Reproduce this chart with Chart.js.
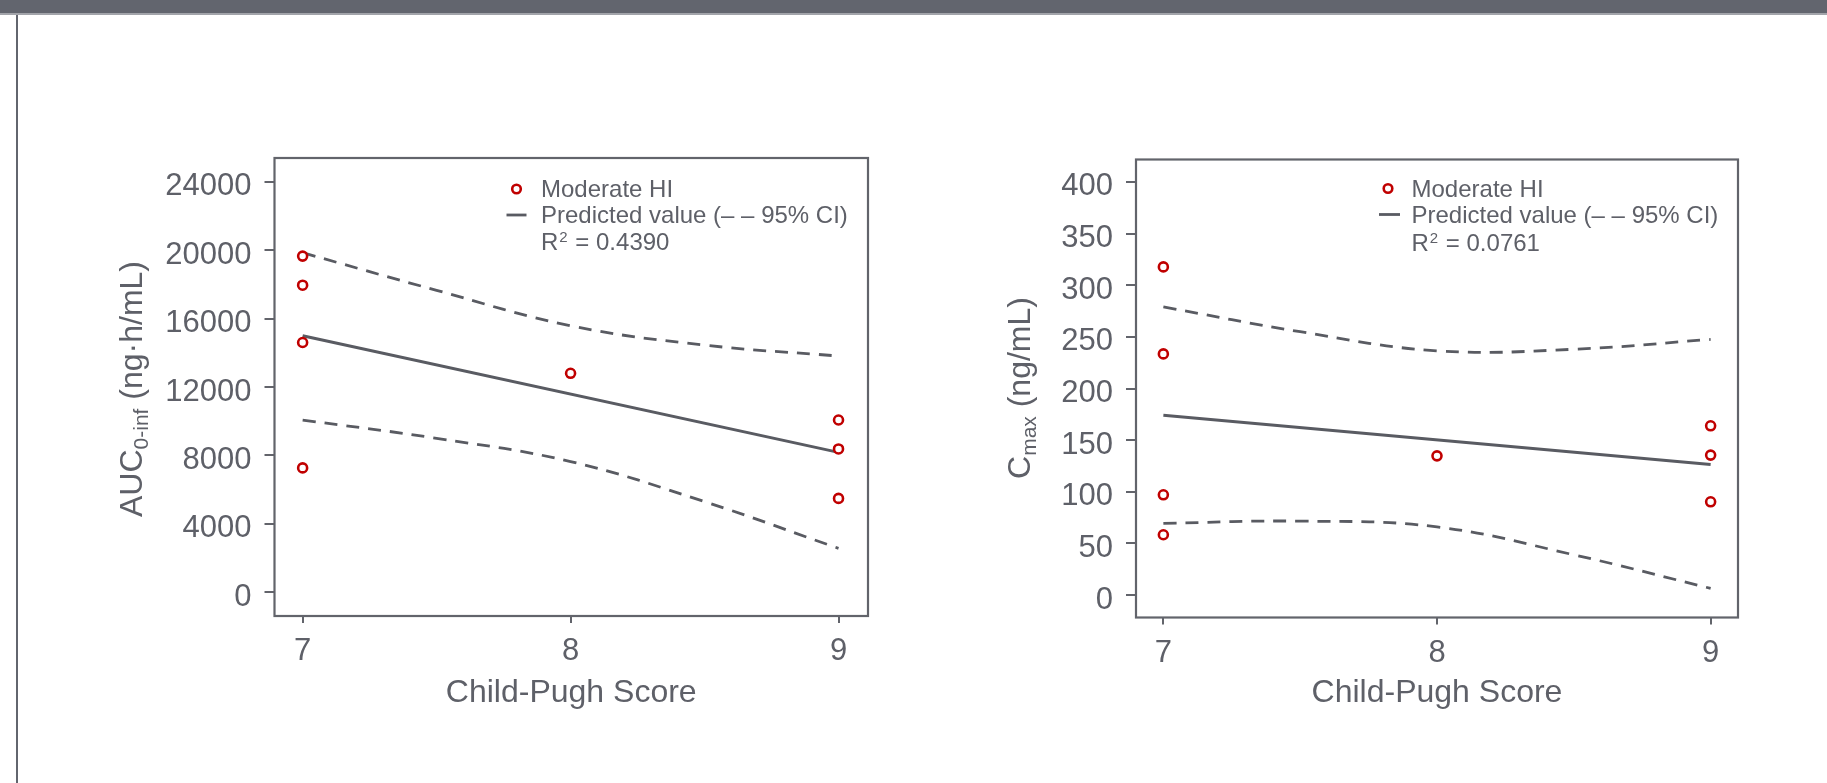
<!DOCTYPE html>
<html>
<head>
<meta charset="utf-8">
<script src="https://cdn.jsdelivr.net/npm/chart.js@4.4.1/dist/chart.umd.min.js"></script>
<style>
  html, body { margin: 0; padding: 0; background: #ffffff; width: 1827px; height: 783px; overflow: hidden; }
  body { position: relative; }
  #topbar { position: absolute; left: 0; top: 0; width: 1827px; height: 13px; background: #62656e; border-bottom: 2px solid #a2a4aa; }
  #siderule { position: absolute; left: 16px; top: 15px; width: 2px; height: 768px; background: #62656e; }
  .panel { position: absolute; top: 0; height: 783px; }
  canvas { display: block; }
</style>
</head>
<body>
<div id="topbar"></div>
<div id="siderule"></div>
<div class="panel" style="left:0; width:913px;"><canvas id="aucChart" width="913" height="783"></canvas></div>
<div class="panel" style="left:913px; width:914px;"><canvas id="cmaxChart" width="914" height="783"></canvas></div>
<script>
// Child-Pugh score of each subject with moderate hepatic impairment
const scores = [7, 7, 7, 7, 8, 9, 9, 9];
// AUC0-inf (ng·h/mL) per subject
const aucValues = [19650, 17950, 14600, 7270, 12800, 10070, 8380, 5490];
// Cmax (ng/mL) per subject
const cmaxValues = [317.7, 233.5, 97.1, 58.4, 134.8, 163.9, 135.5, 90.3];

// Regression line end points
const fitScores = [7, 9];
const aucFit = [15000, 8180];
const cmaxFit = [174, 126.5];

// 95% confidence band
const ciScores = [7, 7.5, 8, 8.5, 9];
const aucUpper = [19850, 17650, 15580, 14450, 13810];
const aucLower = [10070, 9000, 7640, 5300, 2570];
const cmaxUpper = [279, 255, 236.5, 238, 247.5];
const cmaxLower = [69.5, 71.6, 66, 39, 6.5];

// Axis ticks
const xTicks = [7, 8, 9];
const aucTicks = [0, 4000, 8000, 12000, 16000, 20000, 24000];
const cmaxTicks = [0, 50, 100, 150, 200, 250, 300, 350, 400];

const r2Auc = 'R\u00b2 = 0.4390';
const r2Cmax = 'R\u00b2 = 0.0761';

const FONT = "'Liberation Sans', Arial, Helvetica, sans-serif";
const TEXT = '#5e6068';
const AXIS = '#62646b';
const LINE = '#595b62';
const RED = '#c00000';

const pairs = (xs, ys) => xs.map((x, i) => ({ x: x, y: ys[i] }));

const decor = {
  id: 'panelDecor',
  afterDraw(chart, args, o) {
    const ctx = chart.ctx;
    const a = chart.chartArea;
    ctx.save();
    // plot frame
    ctx.strokeStyle = AXIS;
    ctx.lineWidth = 2.2;
    ctx.strokeRect(a.left, a.top, a.right - a.left, a.bottom - a.top);

    ctx.fillStyle = TEXT;
    ctx.textBaseline = 'alphabetic';

    // x axis title
    ctx.font = '32px ' + FONT;
    ctx.textAlign = 'center';
    ctx.fillText('Child-Pugh Score', (a.left + a.right) / 2, o.xTitleY);

    // y axis title with subscript, rotated
    ctx.save();
    ctx.translate(o.yTitleX, o.yTitleY);
    ctx.rotate(-Math.PI / 2);
    ctx.textAlign = 'left';
    const bigFont = '32px ' + FONT;
    const subFont = '21px ' + FONT;
    ctx.font = bigFont; const w1 = ctx.measureText(o.yMain).width;
    ctx.font = subFont; const w2 = ctx.measureText(o.ySub).width;
    ctx.font = bigFont; const w3 = ctx.measureText(o.yRest).width;
    let x0 = -(w1 + w2 + w3) / 2;
    ctx.font = bigFont; ctx.fillText(o.yMain, x0, 0);
    ctx.font = subFont; ctx.fillText(o.ySub, x0 + w1, 6);
    ctx.font = bigFont; ctx.fillText(o.yRest, x0 + w1 + w2, 0);
    ctx.restore();

    // legend
    const lg = o.legend;
    const lgFont = '24px ' + FONT;
    ctx.textAlign = 'left';
    ctx.font = lgFont;
    ctx.beginPath();
    ctx.arc(lg.markX, lg.row1 - 8, 4.3, 0, Math.PI * 2);
    ctx.fillStyle = '#ffffff';
    ctx.fill();
    ctx.strokeStyle = RED;
    ctx.lineWidth = 2.6;
    ctx.stroke();
    ctx.fillStyle = TEXT;
    ctx.fillText('Moderate HI', lg.textX, lg.row1);

    ctx.beginPath();
    ctx.moveTo(lg.lineX1, lg.row2 - 8);
    ctx.lineTo(lg.lineX2, lg.row2 - 8);
    ctx.strokeStyle = LINE;
    ctx.lineWidth = 2.8;
    ctx.stroke();
    ctx.fillText('Predicted value (\u2013 \u2013 95% CI)', lg.textX, lg.row2);

    // R² with a raised 2
    const parts = o.r2.split('\u00b2');
    ctx.font = lgFont;
    const rw = ctx.measureText(parts[0]).width;
    ctx.fillText(parts[0], lg.textX, lg.row3);
    ctx.font = '15px ' + FONT;
    const sw = ctx.measureText('2').width;
    ctx.fillText('2', lg.textX + rw + 1, lg.row3 - 8);
    ctx.font = lgFont;
    ctx.fillText(parts[1], lg.textX + rw + sw + 2, lg.row3);
    ctx.restore();
  }
};

function buildChart(id, cfg) {
  const tickFont = { family: FONT, size: 31 };
  return new Chart(document.getElementById(id), {
    type: 'scatter',
    data: {
      datasets: [
        {
          data: pairs(scores, cfg.values),
          showLine: false,
          pointStyle: 'circle',
          pointRadius: 4.5,
          pointBorderWidth: 2.6,
          pointBorderColor: RED,
          pointBackgroundColor: '#ffffff'
        },
        {
          data: pairs(fitScores, cfg.fit),
          showLine: true,
          pointRadius: 0,
          borderColor: LINE,
          borderWidth: 3
        },
        {
          data: pairs(ciScores, cfg.upper),
          showLine: true,
          pointRadius: 0,
          borderColor: LINE,
          borderWidth: 2.8,
          borderDash: [13, 9],
          tension: 0.4
        },
        {
          data: pairs(ciScores, cfg.lower),
          showLine: true,
          pointRadius: 0,
          borderColor: LINE,
          borderWidth: 2.8,
          borderDash: [13, 9],
          tension: 0.4
        }
      ]
    },
    options: {
      responsive: false,
      animation: false,
      devicePixelRatio: 1,
      layout: { padding: cfg.padding },
      plugins: {
        legend: { display: false },
        tooltip: { enabled: false },
        panelDecor: cfg.decor
      },
      scales: {
        x: {
          type: 'linear',
          min: cfg.xMin,
          max: cfg.xMax,
          afterBuildTicks: s => { s.ticks = xTicks.map(v => ({ value: v })); },
          afterFit: s => { s.height = 100; },
          ticks: { font: tickFont, color: TEXT, padding: 10, maxRotation: 0, callback: v => String(v) },
          grid: { display: true, drawOnChartArea: false, drawTicks: true, tickLength: 7, color: AXIS, lineWidth: 2 },
          border: { display: false }
        },
        y: {
          type: 'linear',
          min: cfg.yMin,
          max: cfg.yMax,
          afterBuildTicks: s => { s.ticks = cfg.yTicks.map(v => ({ value: v })); },
          afterFit: s => { s.width = cfg.yWidth; },
          ticks: { font: tickFont, color: TEXT, padding: 13, labelOffset: 5, callback: v => String(v) },
          grid: { display: true, drawOnChartArea: false, drawTicks: true, tickLength: 10, color: AXIS, lineWidth: 2 },
          border: { display: false }
        }
      }
    },
    plugins: [decor]
  });
}

buildChart('aucChart', {
  values: aucValues, fit: aucFit, upper: aucUpper, lower: aucLower,
  yTicks: aucTicks, yMin: -1385, yMax: 25385, xMin: 6.895, xMax: 9.11,
  yWidth: 274.5,
  padding: { left: 0, top: 158, right: 45, bottom: 67 },
  decor: {
    xTitleY: 702, yTitleX: 142, yTitleY: 389,
    yMain: 'AUC', ySub: '0-inf', yRest: ' (ng\u00b7h/mL)',
    r2: r2Auc,
    legend: { markX: 516.5, lineX1: 506.5, lineX2: 526.5, textX: 541, row1: 197, row2: 223, row3: 250 }
  }
});

buildChart('cmaxChart', {
  values: cmaxValues, fit: cmaxFit, upper: cmaxUpper, lower: cmaxLower,
  yTicks: cmaxTicks, yMin: -21.7, yMax: 421.7, xMin: 6.9, xMax: 9.1,
  yWidth: 223,
  padding: { left: 0, top: 159.5, right: 89, bottom: 65.5 },
  decor: {
    xTitleY: 702, yTitleX: 1030 - 913, yTitleY: 388,
    yMain: 'C', ySub: 'max', yRest: ' (ng/mL)',
    r2: r2Cmax,
    legend: { markX: 1388 - 913, lineX1: 1379 - 913, lineX2: 1400 - 913, textX: 1411.5 - 913, row1: 196.5, row2: 222.5, row3: 250.5 }
  }
});
</script>
</body>
</html>
